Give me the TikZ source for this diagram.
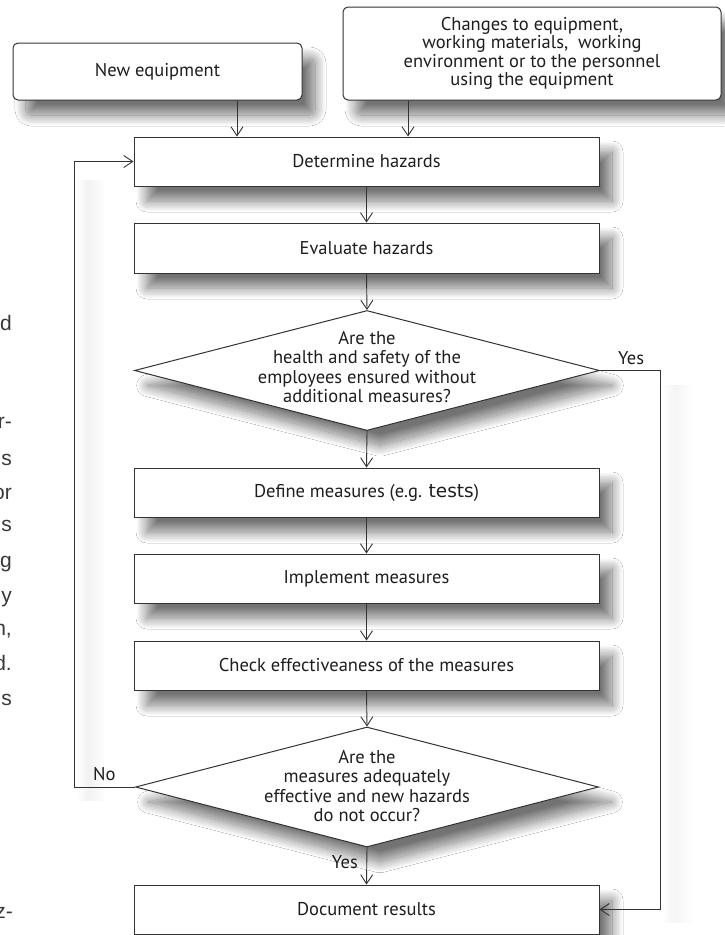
\documentclass[tikz,border=0pt]{standalone}
\usepackage{fontspec}
\setmainfont{PT Sans}
\newfontfamily\fragfont{Liberation Sans}
\newfontfamily\altfont{DejaVu Sans}
\usetikzlibrary{shapes.geometric,arrows.meta,shadows.blur}
\definecolor{ln}{HTML}{333333}
\definecolor{txt}{HTML}{1E1E1E}
\tikzset{
  shd/.style={blur shadow={shadow xshift=13pt, shadow yshift=-15pt, shadow blur radius=11pt, shadow blur steps=24, shadow opacity=55}},
  box/.style={draw=ln, line width=1pt, fill=white, minimum width=465pt, minimum height=49pt,
    inner sep=0pt, align=center, text=txt, font=\fontsize{18.5}{19.5}\selectfont, shd},
  rbox/.style={box, rounded corners=5pt},
  dia/.style={diamond, draw=ln, line width=1pt, fill=white, inner sep=0pt, shd},
  diatext/.style={align=center, text=txt, inner sep=0pt, font=\fontsize{18.5}{19.6}\selectfont},
  lbl/.style={text=txt, inner sep=0pt, font=\fontsize{18.5}{19.5}\selectfont},
  arr/.style={draw=ln, line width=0.9pt, -{Straight Barb[length=9pt,width=12pt]}},
  frag/.style={font=\fragfont\fontsize{21}{21}\selectfont, text=black!78, anchor=base east, inner sep=0pt}
}
\begin{document}
\begin{tikzpicture}[x=1pt,y=-1pt]
\useasboundingbox (0,0) rectangle (724,935);
\fill[white] (0,0) rectangle (724,935);
% soft shadows of the long loop lines
\shade[left color=white, right color=black!5] (76,180) rectangle (88,800);
\shade[left color=black!5, right color=white] (88,180) rectangle (106,800);
\shade[left color=white, right color=black!4] (662,385) rectangle (674,922);
\shade[left color=black!4, right color=white] (674,385) rectangle (694,922);
% text fragments of the adjacent column
\node[frag] (f1) at (12,330) {d};
\node[frag] (f2) at (12,428) {r-};
\node[frag] (f3) at (12,465) {s};
\node[frag] (f4) at (12,499) {or};
\node[frag] (f5) at (12,531) {s};
\node[frag] (f6) at (12,567) {g};
\node[frag] (f7) at (12,602) {y};
\node[frag] (f8) at (12,635) {n,};
\node[frag] (f9) at (12,670) {d.};
\node[frag] (f10) at (12,705) {s};
\node[frag] (f11) at (13,918) {z-};
% nodes
\node[rbox, minimum width=289pt, minimum height=57pt] (new) at (157.5,71.5) {New equipment};
\node[rbox, minimum width=378pt, minimum height=93pt, font=\fontsize{18.5}{18.4}\selectfont] (chg) at (532,53.5)
  {Changes to equipment,\\ working materials,\ \ working\\ environment or to the personnel\\ using the equipment};
\node[box] (det) at (366.5,161.5) {Determine hazards};
\node[box, minimum height=50pt] (eva) at (366.5,248) {Evaluate hazards};
\node[dia, minimum width=465pt, minimum height=120pt] (d1) at (367,370.5) {};
\node[diatext] (d1t) at (367,367) {Are the\\ health and safety of the\\ employees ensured without\\ additional measures?};
\node[box] (def) at (366.5,492.5) {Define measures (e.g. {\altfont\fontsize{18.5}{19}\selectfont tests})};
\node[box] (imp) at (366.5,578.5) {Implement measures};
\node[box] (chk) at (366.5,665.5) {Check effectiveaness of the measures};
\node[dia, minimum width=463pt, minimum height=120pt] (d2) at (367,787) {};
\node[diatext] (d2t) at (367,786) {Are the\\ measures adequately\\ effective and new hazards\\ do not occur?};
\node[box] (doc) at (366.5,909.5) {Document results};
% helper coordinates
\coordinate (a1) at (237,0);
\coordinate (a2) at (408,0);
\coordinate (rr) at (660,0);
\coordinate (ll) at (74,0);
% connectors
\draw[arr] (new.south -| a1) -- (det.north -| a1);
\draw[arr] (chg.south -| a2) -- (det.north -| a2);
\draw[arr] (det.south) -- (eva.north);
\draw[arr] (eva.south) -- (d1.north);
\draw[arr] (d1.south) -- (def.north);
\draw[arr] (def.south) -- (imp.north);
\draw[arr] (imp.south) -- (chk.north);
\draw[arr] (chk.south) -- (d2.north);
\draw[arr] (d2.south) -- (doc.north);
\draw[arr] (d1.east) -- (rr |- d1.east) -- (rr |- doc.east) -- (doc.east);
\draw[arr] (d2.west) -- (ll |- d2.west) -- (ll |- det.west) -- (det.west);
% labels
\node[lbl, anchor=base west] (yes1) at (618,364) {Yes};
\node[lbl, anchor=base west] (no) at (93,780) {No};
\node[lbl, anchor=base east] (yes2) at (358,868) {Yes};
\end{tikzpicture}
\end{document}
